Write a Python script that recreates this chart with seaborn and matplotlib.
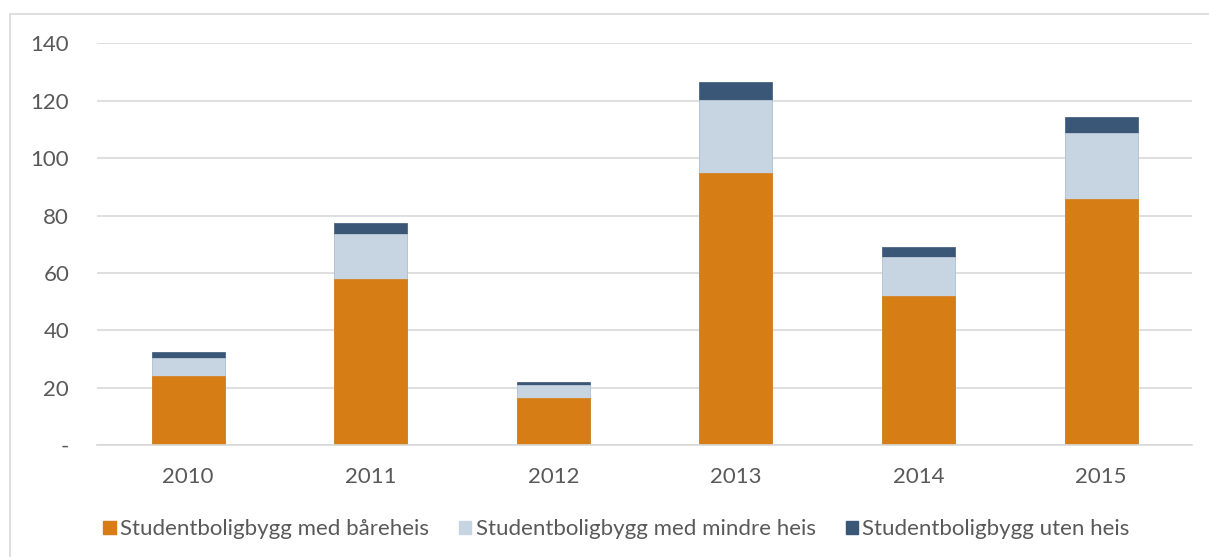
import pandas as pd
import numpy as np
import matplotlib
matplotlib.use("Agg")
import matplotlib.pyplot as plt
import seaborn as sns
from matplotlib.patches import Patch, Rectangle

# Data
years = ["2010", "2011", "2012", "2013", "2014", "2015"]
baareheis = [24.1, 57.9, 16.4, 94.8, 51.8, 85.9]
mindre_heis = [6.3, 15.6, 4.5, 25.4, 13.9, 22.8]
uten_heis = [1.9, 3.8, 1.0, 6.3, 3.4, 5.7]
series_names = ["Studentboligbygg med båreheis",
                "Studentboligbygg med mindre heis",
                "Studentboligbygg uten heis"]
colors = ["#D67D15", "#C7D5E3", "#3A5777"]

sns.set_style("white")
plt.rcParams['font.family'] = ['Lato', 'DejaVu Sans']

df = pd.DataFrame({"year": years, "a": baareheis, "b": mindre_heis, "c": uten_heis})
df["ab"] = df["a"] + df["b"]
df["abc"] = df["ab"] + df["c"]

fig = plt.figure(figsize=(12.09, 5.57), dpi=100)
ax = fig.add_axes([0.0802, 0.201, 0.906, 0.721])

# stacked bars drawn as overlapping cumulative totals
for col, c in zip(["abc", "ab", "a"], colors[::-1]):
    sns.barplot(data=df, x="year", y=col, color=c, width=0.4, ax=ax,
                edgecolor=c, linewidth=0.5, saturation=1)

ax.set_ylim(0, 140)
ax.set_xlim(-0.5, 5.5)
ax.set_yticks(range(0, 141, 20))
ax.set_yticklabels(["-"] + [str(v) for v in range(20, 141, 20)])
ax.yaxis.grid(True, color="#D9D9D9", linewidth=1.2)
ax.set_axisbelow(True)
for s in ["left", "right", "top"]:
    ax.spines[s].set_visible(False)
ax.spines["bottom"].set_color("#D9D9D9")
ax.spines["bottom"].set_linewidth(1.2)
ax.set_xlabel("")
ax.set_ylabel("")
ax.tick_params(axis="both", length=0, labelsize=16, colors="#595959")
ax.tick_params(axis="y", pad=20)
ax.tick_params(axis="x", pad=16)

handles = [Patch(facecolor=c, edgecolor=c) for c in colors]
fig.legend(handles, series_names, loc="center left", bbox_to_anchor=(0.069, 0.05),
           ncol=3, frameon=False, fontsize=16, handlelength=0.55, handleheight=0.55,
           handletextpad=0.2, columnspacing=1.35, labelcolor="#595959")

fig.patches.append(Rectangle((0.008, -0.1), 1.1, 1.075, transform=fig.transFigure,
                             fill=False, edgecolor="#D9D9D9", linewidth=1.2))

fig.savefig("out.png", dpi=100)
